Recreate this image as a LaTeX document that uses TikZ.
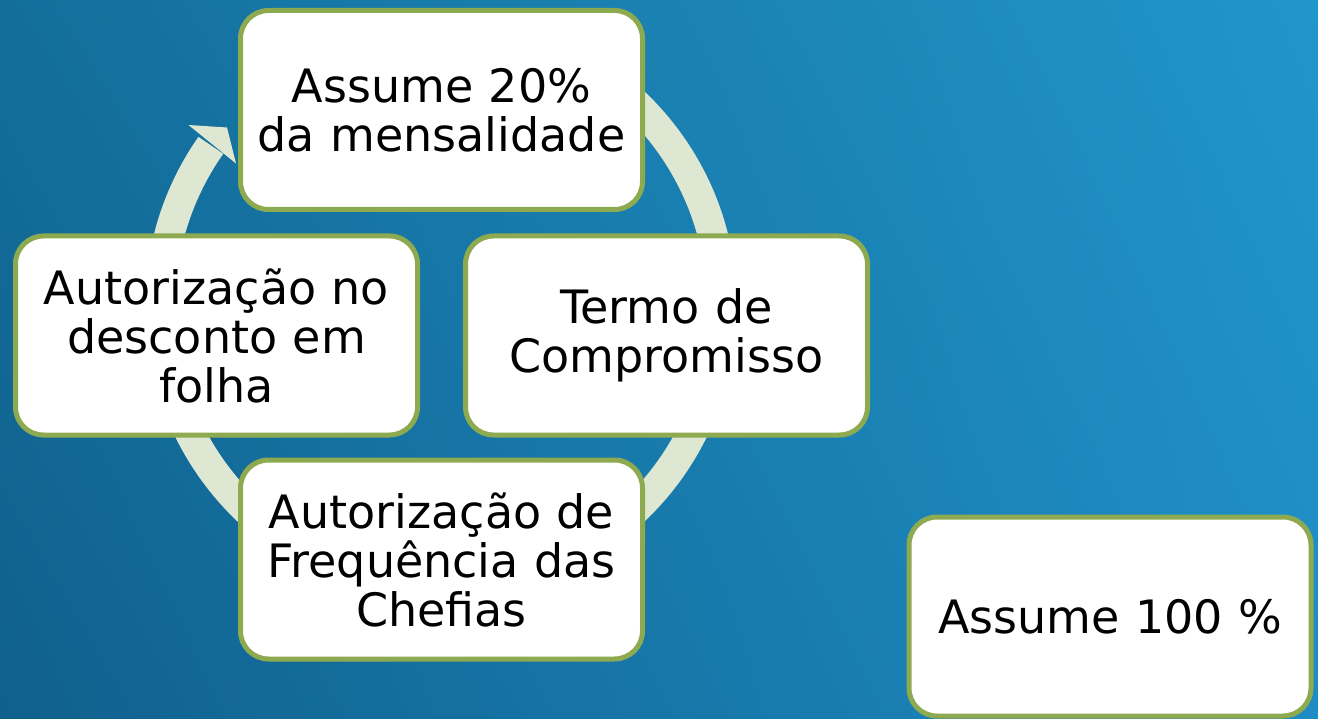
\documentclass[tikz,border=0pt]{standalone}
\usepackage{fontspec}
\setmainfont{DejaVu Sans}
\usetikzlibrary{shadings}
\definecolor{bgUL}{RGB}{19,110,155}
\definecolor{bgUR}{RGB}{33,150,202}
\definecolor{bgLL}{RGB}{16,96,140}
\definecolor{bgLR}{RGB}{30,140,196}
\definecolor{ringc}{RGB}{221,231,210}
\definecolor{edgec}{RGB}{142,170,80}
\begin{document}
\begin{tikzpicture}[x=1pt,y=-1pt,
  card/.style={draw=edgec, line width=5pt, fill=white, rounded corners=28pt,
    minimum width=402pt, minimum height=199pt, inner sep=0pt, align=center,
    text width=398pt, font=\fontsize{46}{49}\selectfont},
  ringline/.style={draw=ringc, line width=30pt},
  ringhead/.style={fill=ringc}]
\shade[upper left=bgUL, upper right=bgUR, lower left=bgLL, lower right=bgLR] (0,0) rectangle (1318,719);
\useasboundingbox (0,0) rectangle (1318,719);
\coordinate (c) at (441,306.5);
\draw[ringline] (c) ++(-130:281) arc[start angle=-130, end angle=215, radius=281];
\coordinate (h1) at (188.5,125);
\coordinate (h2) at (227,127.5);
\coordinate (h3) at (236,163.5);
\fill[ringhead] (h1) -- (h2) -- (h3) -- cycle;
\node[card] (top) at (441.5,110) {Assume 20\%\\da mensalidade};
\node[card] (right) at (666.5,335.5) {Termo de\\Compromisso};
\node[card] (left) at (216.5,335.5) {Autorização no\\desconto em\\folha};
\node[card] (bottom) at (441.5,559.5) {Autorização de\\Frequência das\\Chefias};
\node[card] (far) at (1110,616.5) {Assume 100 \%};
\end{tikzpicture}
\end{document}
